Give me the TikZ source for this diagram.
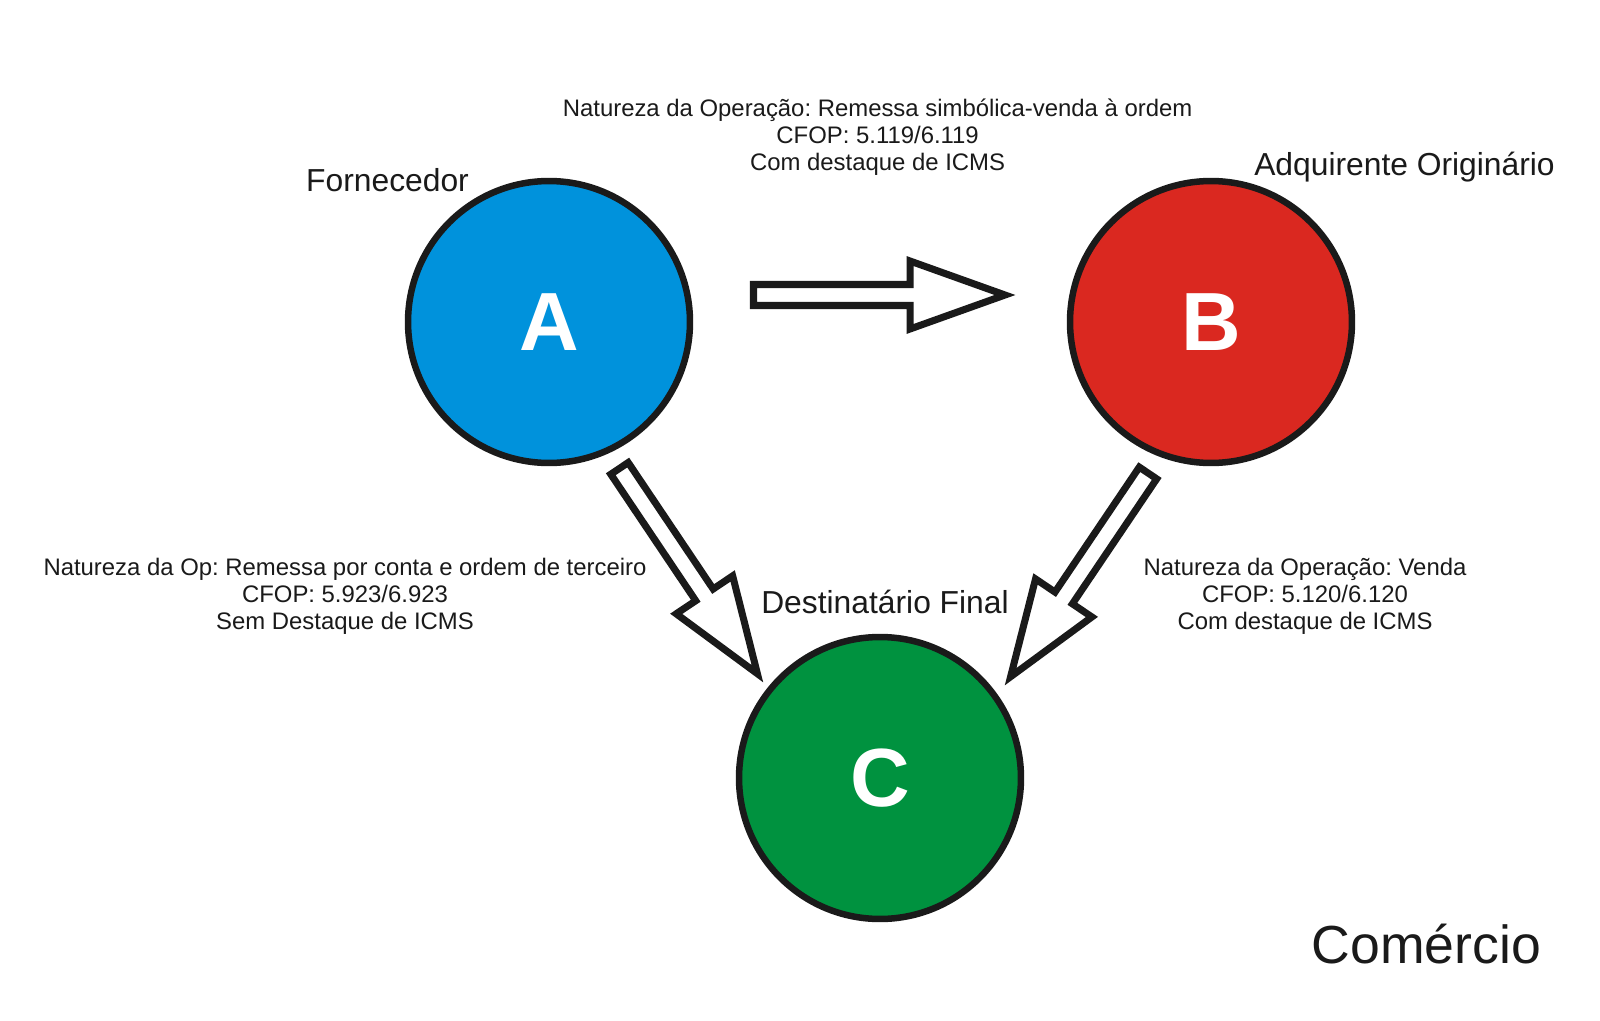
\documentclass[tikz,border=0pt]{standalone}
\usepackage{fontspec}
\usepackage{xcolor}
\setmainfont{Liberation Sans}
\frenchspacing
\usetikzlibrary{calc}
\definecolor{ink}{HTML}{1A1A1A}
\definecolor{skyblue}{HTML}{0092DC}
\definecolor{brickred}{HTML}{DA2820}
\definecolor{leafgreen}{HTML}{00923F}
\begin{document}
\begin{tikzpicture}[x=0.02cm,y=-0.02cm,
disc/.style={circle,draw=ink,line width=3.7pt,minimum size=5.64cm,inner sep=0pt,text=white,font=\fontsize{47}{56}\selectfont\bfseries},
blockarrow/.style={draw=ink,fill=white,line width=4pt,line join=miter},
role/.style={anchor=base,text=ink,font=\fontsize{18.1}{21}\selectfont},
note/.style={align=center,text=ink,font=\fontsize{13.6}{15.4}\selectfont}]
\useasboundingbox[fill=white] (0,0) rectangle (1600,1021);
% circles
\node[disc,fill=skyblue] (A) at (549,322) {A};
\node[disc,fill=brickred] (B) at (1211,322) {B};
\node[disc,fill=leafgreen] (C) at (880,778) {C};
% names
\node[role] (fornecedor) at (387.5,191.7) {Fornecedor};
\node[role] (adquirente) at (1404.5,175) {Adquirente Originário};
\node[role] (destinatario) at (885,613) {Destinatário Final};
\node[anchor=base,text=ink,font=\fontsize{30.5}{36}\selectfont] (comercio) at (1426.5,963) {Comércio};
% block arrows
\coordinate (ab0) at (753.5,295); \coordinate (ab1) at (1005,295);
\coordinate (ac0) at (619.5,468.4); \coordinate (ac1) at (757.4,673.7);
\coordinate (bc0) at (1148,473); \coordinate (bc1) at (1010.6,676.7);
\foreach \s/\e in {ab0/ab1,ac0/ac1,bc0/bc1}{
\coordinate (h) at ($(\e)!1.9cm!(\s)$);
\draw[blockarrow] ($(\s)!0.21cm!90:(\e)$)--($(h)!0.21cm!90:(\e)$)--($(h)!0.68cm!90:(\e)$)--(\e)--($(h)!0.68cm!-90:(\e)$)--($(h)!0.21cm!-90:(\e)$)--($(\s)!0.21cm!-90:(\e)$)--cycle;
}
% operations
\node[note] (opab) at (877.6,137) {Natureza da Operação: Remessa simbólica-venda à ordem\\CFOP: 5.119/6.119\\Com destaque de ICMS};
\node[note] (opac) at (345,596) {Natureza da Op: Remessa por conta e ordem de terceiro\\CFOP: 5.923/6.923\\Sem Destaque de ICMS};
\node[note] (opbc) at (1305,596) {Natureza da Operação: Venda\\CFOP: 5.120/6.120\\Com destaque de ICMS};
\end{tikzpicture}
\end{document}
